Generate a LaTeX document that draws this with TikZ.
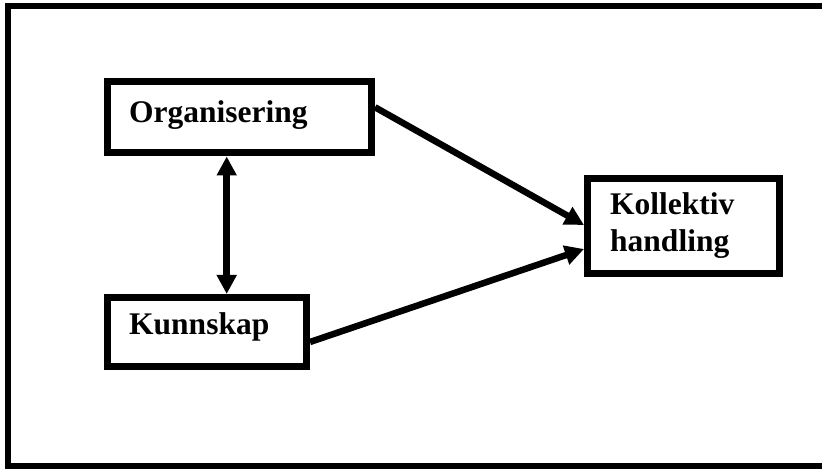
\documentclass[tikz,border=0pt]{standalone}
\usepackage{fontspec}
\setmainfont{Liberation Serif}
\usetikzlibrary{arrows.meta}
\begin{document}
\begin{tikzpicture}[x=1bp,y=-1bp,
  boxn/.style={draw=black, line width=7bp, rectangle, inner sep=0pt},
  lbl/.style={inner sep=0pt, font=\fontsize{31.5bp}{37bp}\selectfont\bfseries, align=left},
  arr/.style={line width=6.5bp, -{Triangle[length=19bp,width=19bp]}},
  darr/.style={line width=6.5bp, {Triangle[length=19bp,width=19bp]}-{Triangle[length=19bp,width=19bp]}}]
\useasboundingbox (0,0) rectangle (822,469);
\draw[line width=6bp] (822,6) -- (8,6) -- (8,466) -- (822,466);
\node[boxn, minimum width=264bp, minimum height=71.5bp] (org) at (239.5,117.25) {};
\node[boxn, minimum width=199bp, minimum height=69bp] (kun) at (207,332) {};
\node[boxn, minimum width=192bp, minimum height=95bp] (kol) at (683.5,226) {};
\node[lbl, anchor=base west] (orgt) at (129,123) {Organisering};
\node[lbl, anchor=base west] (kunt) at (129,335) {Kunnskap};
\node[lbl, anchor=base west] (kolt) at (610,252) {Kollektiv\\handling};
\coordinate (dcx) at (226.7,0);
\draw[arr] ([yshift=10bp]org.east) -- ([yshift=1bp]kol.west);
\draw[arr] ([yshift=-10bp]kun.east) -- ([yshift=-23bp]kol.west);
\draw[darr] (org.south -| dcx) -- (kun.north -| dcx);
\end{tikzpicture}
\end{document}
